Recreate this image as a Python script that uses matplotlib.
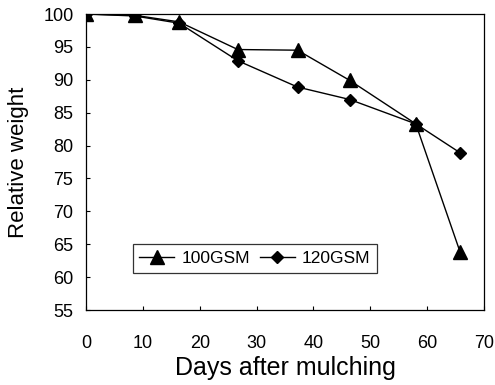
import matplotlib.pyplot as plt

# Data
days = [0, 8.6, 16.4, 26.7, 37.2, 46.4, 58, 65.8]
gsm100 = [100, 99.8, 98.8, 94.6, 94.5, 89.9, 83.3, 63.8]
gsm120 = [100, 99.7, 98.6, 92.9, 88.9, 87.0, 83.3, 78.9]

x_ticks = [0, 10, 20, 30, 40, 50, 60, 70]
y_ticks = [55, 60, 65, 70, 75, 80, 85, 90, 95, 100]

plt.rcParams['font.family'] = ['Liberation Sans', 'DejaVu Sans']

fig = plt.figure(figsize=(4.95, 3.85), dpi=100)
ax = fig.add_axes([0.1737, 0.1948, 0.8041, 0.7688])

ax.plot(days, gsm100, color='black', lw=1, marker='^', ms=10.5, label='100GSM')
ax.plot(days, gsm120, color='black', lw=1, marker='D', ms=6.5, label='120GSM')

ax.set_xlim(0, 70)
ax.set_ylim(55, 100)
ax.set_xticks(x_ticks)
ax.set_yticks(y_ticks)
ax.tick_params(axis='both', direction='in', length=3, width=0.8, labelsize=13)
ax.tick_params(axis='x', pad=18)
ax.tick_params(axis='y', pad=9)
for s in ax.spines.values():
    s.set_linewidth(0.9)

ax.set_xlabel('Days after mulching', fontsize=18, labelpad=3)
ax.set_ylabel('Relative weight', fontsize=16, labelpad=10)

leg = ax.legend(loc='lower left', bbox_to_anchor=(0.117, 0.126), ncol=2,
                frameon=True, fancybox=False, edgecolor='black',
                fontsize=12.5, handlelength=2.0, columnspacing=0.6,
                handletextpad=0.4, borderpad=0.4, borderaxespad=0)
leg.get_frame().set_linewidth(0.9)

fig.savefig('out.png', dpi=100)
